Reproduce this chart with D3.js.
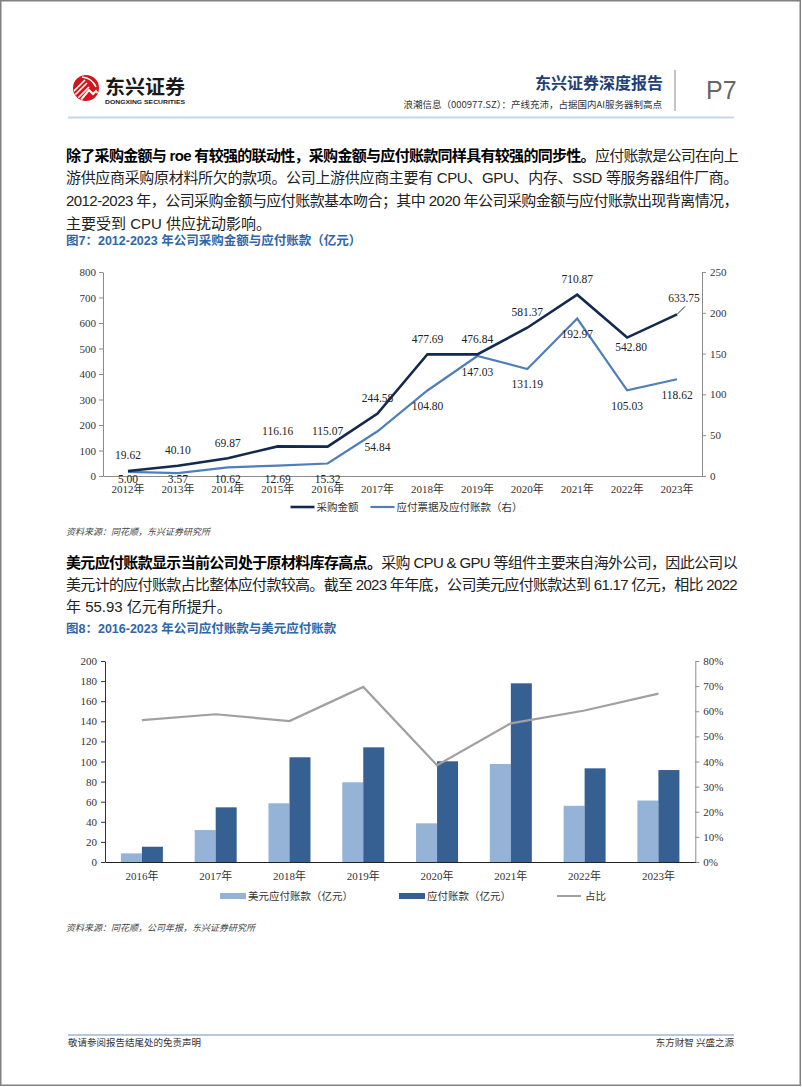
<!DOCTYPE html>
<html><head><meta charset="utf-8">
<script src="https://cdn.jsdelivr.net/npm/d3@7"></script>
<style>body{margin:0;background:#fff}svg{display:block}</style>
</head><body>
<svg id="page" width="802" height="1087"></svg>
<script>
// ---------- data ----------
const years1 = ["2012年","2013年","2014年","2015年","2016年","2017年","2018年","2019年","2020年","2021年","2022年","2023年"];
const purchaseAmount = [19.62, 40.10, 69.87, 116.16, 115.07, 244.58, 477.69, 476.84, 581.37, 710.87, 542.80, 633.75];
const notesAndPayables = [5.00, 3.57, 10.62, 12.69, 15.32, 54.84, 104.80, 147.03, 131.19, 192.97, 105.03, 118.62];
const leftTicks1 = [0,100,200,300,400,500,600,700,800];
const rightTicks1 = [0,50,100,150,200,250];

const years2 = ["2016年","2017年","2018年","2019年","2020年","2021年","2022年","2023年"];
const usdPayables = [8.6, 31.8, 58.4, 79.3, 38.5, 97.5, 55.93, 61.17];
const totalPayables = [15.2, 54.4, 104.2, 114.1, 100.2, 177.8, 93.2, 91.5];
const usdShare = [0.565, 0.588, 0.561, 0.697, 0.385, 0.552, 0.603, 0.670];
const leftTicks2 = [0,20,40,60,80,100,120,140,160,180,200];
const rightTicks2 = [0,0.1,0.2,0.3,0.4,0.5,0.6,0.7,0.8];

// ---------- setup ----------
const SANS = "'Liberation Sans', Arial, 'Noto Sans CJK SC', sans-serif";
const CJK = "'Noto Sans CJK SC', 'Liberation Sans', sans-serif";
const SERIF = "'Liberation Serif', 'Times New Roman', 'Noto Sans CJK SC', serif";
const svg = d3.select("#page");

svg.append("rect").attr("x",0.75).attr("y",0.75).attr("width",799.5).attr("height",1084.5)
  .attr("fill","none").attr("stroke","#808080").attr("stroke-width",1.5);

// ---------- header ----------
const logo = svg.append("g").attr("transform","translate(86,88)");
const defs = svg.append("defs");
defs.append("clipPath").attr("id","lc").append("circle").attr("r",12.5);
logo.append("circle").attr("r",13).attr("fill","#d2151c");
const lg = logo.append("g").attr("clip-path","url(#lc)");
[["M-13,4 L-1,-8"],["M-13,9 L1,-5"],["M-11,13 L3,-1"]].forEach(p=>
  lg.append("path").attr("d",p[0]).attr("stroke","#fff").attr("stroke-width",1.6).attr("fill","none"));
lg.append("path").attr("d","M-6,13 L3,2 L7,6 L10,3 L14,8").attr("stroke","#fff").attr("stroke-width",2).attr("fill","none");
lg.append("path").attr("d","M-4,-11 Q6,-10 10,-1").attr("stroke","#fff").attr("stroke-width",1.6).attr("fill","none");
svg.append("text").attr("x",105).attr("y",94).attr("font-family",CJK).attr("font-weight",700)
  .attr("font-size",19.5).attr("fill","#1a1a1a").attr("textLength",80).attr("lengthAdjust","spacingAndGlyphs").text("东兴证券");
svg.append("text").attr("x",105).attr("y",104).attr("font-family",SANS).attr("font-weight",700)
  .attr("font-size",6.2).attr("fill","#1a1a1a").attr("textLength",80).attr("lengthAdjust","spacingAndGlyphs").text("DONGXING SECURITIES");

svg.append("text").attr("x",663).attr("y",89).attr("text-anchor","end").attr("font-family",CJK)
  .attr("font-weight",700).attr("font-size",16).attr("fill","#1f3f75").text("东兴证券深度报告");
svg.append("text").attr("x",662).attr("y",108).attr("text-anchor","end").attr("font-family",CJK)
  .attr("font-size",9.5).attr("fill","#333").text("浪潮信息（000977.SZ）：产线充沛，占据国内AI服务器制高点");
svg.append("line").attr("x1",675).attr("x2",675).attr("y1",70).attr("y2",111).attr("stroke","#888").attr("stroke-width",1);
svg.append("text").attr("x",706).attr("y",99).attr("font-family",SANS).attr("font-size",25)
  .attr("fill","#666").text("P7");
svg.append("line").attr("x1",68).attr("x2",734).attr("y1",117.5).attr("y2",117.5).attr("stroke","#c9d6e8").attr("stroke-width",2);

// ---------- paragraphs ----------
function para(lines, x, y0, lh, right) {
  lines.forEach((ln, i) => {
    const t = svg.append("text").attr("x", x).attr("y", y0 + i*lh)
      .attr("font-size", 15).attr("font-family", SANS).attr("fill", "#1a1a1a");
    ln.segs.forEach(s => t.append("tspan").attr("font-weight", s[1] ? 700 : 400)
      .attr("fill", s[1] ? "#000" : "#222").text(s[0]));
    if (ln.j) {
      const nat = t.node().getComputedTextLength();
      const n = ln.segs.map(s=>s[0]).join("").length;
      t.attr("letter-spacing", ((right - x) - nat) / n);
    }
  });
}
para([
  {j:true, segs:[["除了采购金额与 roe 有较强的联动性，采购金额与应付账款同样具有较强的同步性。",1],["应付账款是公司在向上",0]]},
  {j:true, segs:[["游供应商采购原材料所欠的款项。公司上游供应商主要有 CPU、GPU、内存、SSD 等服务器组件厂商。",0]]},
  {j:true, segs:[["2012-2023 年，公司采购金额与应付账款基本吻合；其中 2020 年公司采购金额与应付账款出现背离情况，",0]]},
  {j:false, segs:[["主要受到 CPU 供应扰动影响。",0]]}
], 66, 160.5, 22.8, 738);

para([
  {j:true, segs:[["美元应付账款显示当前公司处于原材料库存高点。",1],["采购 CPU & GPU 等组件主要来自海外公司，因此公司以",0]]},
  {j:true, segs:[["美元计的应付账款占比整体应付款较高。截至 2023 年年底，公司美元应付账款达到 61.17 亿元，相比 2022",0]]},
  {j:false, segs:[["年 55.93 亿元有所提升。",0]]}
], 66, 568, 22, 737);

function title(txt, y) {
  svg.append("text").attr("x",66).attr("y",y).attr("font-family",SANS).attr("font-weight",700)
    .attr("font-size",12.5).attr("fill","#2f66a8").text(txt);
}
title("图7：2012-2023 年公司采购金额与应付账款（亿元）", 244.5);
title("图8：2016-2023 年公司应付账款与美元应付账款", 632.5);

function source(txt, y) {
  svg.append("text").attr("x",66).attr("y",y).attr("font-family",CJK).attr("font-style","italic")
    .attr("font-size",9).attr("fill","#444").text(txt);
}
source("资料来源：同花顺，东兴证券研究所", 534.5);
source("资料来源：同花顺，公司年报，东兴证券研究所", 930.5);

function styleAxis(g, color) {
  g.selectAll(".domain").attr("stroke", color);
  g.selectAll(".tick line").attr("stroke", color);
  g.selectAll("text").attr("font-family", SERIF).attr("font-size", 11).attr("fill", "#333");
}

// ---------- chart 1 ----------
{
  const L = 103, R = 702, B = 476, T = 272;
  const x = d3.scaleBand().domain(years1).range([L, R]);
  const cx = d => x(d) + x.bandwidth()/2;
  const yL = d3.scaleLinear().domain([0,800]).range([B,T]);
  const yR = d3.scaleLinear().domain([0,250]).range([B,T]);
  const g = svg.append("g");

  const ax = g.append("g").attr("transform",`translate(${L},0)`)
    .call(d3.axisLeft(yL).tickValues(leftTicks1).tickSize(4).tickSizeOuter(0).tickPadding(3));
  styleAxis(ax, "#8c8c8c");
  const ar = g.append("g").attr("transform",`translate(${R},0)`)
    .call(d3.axisRight(yR).tickValues(rightTicks1).tickSize(4).tickSizeOuter(0).tickPadding(4));
  styleAxis(ar, "#8c8c8c");
  const ab = g.append("g").attr("transform",`translate(0,${B})`)
    .call(d3.axisBottom(x).tickSize(0).tickSizeOuter(0).tickPadding(9));
  styleAxis(ab, "#8c8c8c");

  const line1 = d3.line().x((d,i)=>cx(years1[i])).y(d=>yL(d));
  const line2 = d3.line().x((d,i)=>cx(years1[i])).y(d=>yR(d));
  g.append("path").attr("d", line2(notesAndPayables)).attr("fill","none").attr("stroke","#4f7fba").attr("stroke-width",2.2);
  g.append("path").attr("d", line1(purchaseAmount)).attr("fill","none").attr("stroke","#13294d").attr("stroke-width",2.6);

  const lab = g.append("g").attr("font-family",SERIF).attr("font-size",11.5).attr("fill","#222").attr("text-anchor","middle");
  purchaseAmount.forEach((v,i)=>{
    const px = cx(years1[i]), py = yL(v);
    let tx = px, ty = py - 11.5;
    if (i === 10) { tx = px + 4; ty = py + 13; }
    if (i === 11) {
      tx = px + 7; ty = py - 12.5;
      g.append("line").attr("x1",px).attr("y1",py).attr("x2",px+8).attr("y2",py-8).attr("stroke","#13294d").attr("stroke-width",1);
    }
    lab.append("text").attr("x",tx).attr("y",ty).text(v.toFixed(2));
  });
  notesAndPayables.forEach((v,i)=>{
    const px = cx(years1[i]), py = yR(v);
    const cy = Math.min(py + 15.5, 479);
    lab.append("text").attr("x",px).attr("y",cy + 4).text(v.toFixed(2));
  });

  // legend
  const items = [["采购金额","#13294d",2.6],["应付票据及应付账款（右）","#4f7fba",2.2]];
  const lgd = g.append("g");
  let xx = 0;
  items.forEach(it=>{
    lgd.append("line").attr("x1",xx).attr("x2",xx+24).attr("y1",0).attr("y2",0).attr("stroke",it[1]).attr("stroke-width",it[2]);
    const t = lgd.append("text").attr("x",xx+26).attr("y",4).attr("font-family",CJK).attr("font-size",10.5).attr("fill","#333").text(it[0]);
    xx += 26 + t.node().getComputedTextLength() + 12;
  });
  const w = xx - 12;
  lgd.attr("transform",`translate(${(L+R)/2 - w/2 + 4},507)`);
}

// ---------- chart 2 ----------
{
  const L = 105, R = 695.3, B = 862, T = 661;
  const x = d3.scaleBand().domain(years2).range([L, R]);
  const x1 = d3.scaleBand().domain(["usd","total"]).range([0, 42]);
  const off = x.bandwidth()/2 - 21;
  const yL = d3.scaleLinear().domain([0,200]).range([B,T]);
  const yR = d3.scaleLinear().domain([0,0.8]).range([B,T]);
  const g = svg.append("g");

  const ax = g.append("g").attr("transform",`translate(${L},0)`)
    .call(d3.axisLeft(yL).tickValues(leftTicks2).tickSize(4).tickSizeOuter(0).tickPadding(4));
  styleAxis(ax, "#333");
  const ar = g.append("g").attr("transform",`translate(${R},0)`)
    .call(d3.axisRight(yR).tickValues(rightTicks2).tickFormat(d3.format(".0%")).tickSize(4).tickSizeOuter(0).tickPadding(4));
  styleAxis(ar, "#8c8c8c");

  g.selectAll(".bu").data(usdPayables).join("rect")
    .attr("x",(d,i)=>x(years2[i]) + off + x1("usd")).attr("width",x1.bandwidth())
    .attr("y",d=>yL(d)).attr("height",d=>B - yL(d)).attr("fill","#95b3d7");
  g.selectAll(".bt").data(totalPayables).join("rect")
    .attr("x",(d,i)=>x(years2[i]) + off + x1("total")).attr("width",x1.bandwidth())
    .attr("y",d=>yL(d)).attr("height",d=>B - yL(d)).attr("fill","#376092");

  const ab = g.append("g").attr("transform",`translate(0,${B})`)
    .call(d3.axisBottom(x).tickSize(0).tickSizeOuter(0).tickPadding(10));
  styleAxis(ab, "#222");

  const ln = d3.line().x((d,i)=>x(years2[i]) + x.bandwidth()/2).y(d=>yR(d));
  g.append("path").attr("d", ln(usdShare)).attr("fill","none").attr("stroke","#a0a0a0").attr("stroke-width",2.2);

  const lgd = g.append("g");
  const items = [["美元应付账款（亿元）","#95b3d7","bar"],["应付账款（亿元）","#376092","bar"],["占比","#a0a0a0","line"]];
  let xx = 0;
  items.forEach(it=>{
    if (it[2]==="bar") lgd.append("rect").attr("x",xx).attr("y",-3).attr("width",26).attr("height",6).attr("fill",it[1]);
    else lgd.append("line").attr("x1",xx).attr("x2",xx+24).attr("y1",0).attr("y2",0).attr("stroke",it[1]).attr("stroke-width",2);
    const t = lgd.append("text").attr("x",xx+28).attr("y",4).attr("font-family",CJK).attr("font-size",10.5).attr("fill","#333").text(it[0]);
    xx += 28 + t.node().getComputedTextLength() + 46;
  });
  lgd.attr("transform",`translate(220,896)`);
}

// ---------- footer ----------
svg.append("line").attr("x1",68).attr("x2",734).attr("y1",1035).attr("y2",1035).attr("stroke","#b8c8dc").attr("stroke-width",2);
svg.append("text").attr("x",68).attr("y",1046).attr("font-family",CJK).attr("font-size",9.5).attr("fill","#333").text("敬请参阅报告结尾处的免责声明");
svg.append("text").attr("x",734).attr("y",1046).attr("text-anchor","end").attr("font-family",CJK).attr("font-size",9.5).attr("fill","#333").text("东方财智  兴盛之源");
</script>
</body></html>
